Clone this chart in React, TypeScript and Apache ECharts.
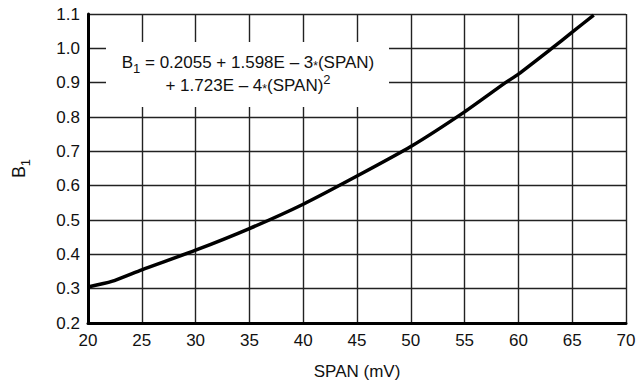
import React, { useEffect, useRef } from "react";
import * as echarts from "echarts";

const spanValues = [20, 22.2, 25, 30, 35, 40, 45, 50, 55, 58.8, 60, 63.1, 65, 67];
const b1Values = [0.305, 0.321, 0.355, 0.412, 0.475, 0.546, 0.628, 0.714, 0.815, 0.9, 0.925, 1.0, 1.047, 1.097];
const xTicks = { min: 20, max: 70, interval: 5 };
const yTicks = { min: 0.2, max: 1.1, interval: 0.1 };
const formulaLine1 = ["B", "1", " = 0.2055 + 1.598E \u2013 3", "*", "(SPAN)"];
const formulaLine2 = ["+ 1.723E \u2013 4", "*", "(SPAN)", "2"];

const FONT = "'Liberation Sans', Arial, Helvetica, sans-serif";

export default function App() {
  const ref = useRef<HTMLDivElement>(null);
  useEffect(() => {
    if (!ref.current) return;
    const chart = echarts.init(ref.current, null, { renderer: "svg" });
    const data = spanValues.map((x, i) => [x, b1Values[i]]);
    const ink = "#111";
    chart.setOption({
      animation: false,
      backgroundColor: "#fff",
      textStyle: { fontFamily: FONT },
      grid: { left: 88, right: 16, top: 14, bottom: 61, containLabel: false },
      xAxis: {
        type: "value",
        min: xTicks.min,
        max: xTicks.max,
        interval: xTicks.interval,
        name: "SPAN (mV)",
        nameLocation: "middle",
        nameGap: 40,
        nameTextStyle: { color: ink, fontSize: 17, fontFamily: FONT },
        axisLine: { show: true, onZero: false, lineStyle: { color: "#000", width: 3 } },
        axisTick: { show: false },
        axisLabel: { color: ink, fontSize: 17, margin: 9, fontFamily: FONT },
        splitLine: { show: true, lineStyle: { color: "#222", width: 1.4 } },
      },
      yAxis: {
        type: "value",
        min: yTicks.min,
        max: yTicks.max,
        interval: yTicks.interval,
        name: "{b|B}{s|1}",
        nameLocation: "middle",
        nameGap: 60,
        nameTextStyle: {
          color: ink,
          fontFamily: FONT,
          rich: {
            b: { fontSize: 18, lineHeight: 18, verticalAlign: "top", fontFamily: FONT, color: ink },
            s: { fontSize: 13, lineHeight: 13, padding: [9, 0, 0, 0], verticalAlign: "top", fontFamily: FONT, color: ink },
          },
        },
        axisLine: { show: true, onZero: false, lineStyle: { color: "#000", width: 3 } },
        axisTick: { show: false },
        axisLabel: {
          color: ink,
          fontSize: 17,
          margin: 8,
          fontFamily: FONT,
          formatter: (v: number) => v.toFixed(1),
        },
        splitLine: { show: true, lineStyle: { color: "#222", width: 1.4 } },
      },
      graphic: [
        {
          type: "rect",
          z: 10,
          shape: { x: 106, y: 42, width: 283, height: 65 },
          style: { fill: "#fff" },
        },
        {
          type: "text",
          z: 11,
          x: 248,
          y: 54,
          style: {
            text: `{b|${formulaLine1[0]}}{s|${formulaLine1[1]}}{b|${formulaLine1[2]}}{a|${formulaLine1[3]}}{b|${formulaLine1[4]}}`,
            align: "center",
            fontFamily: FONT,
            rich: {
              b: { fontSize: 17, lineHeight: 17, verticalAlign: "top", fontFamily: FONT, fill: ink },
              s: { fontSize: 13, lineHeight: 13, padding: [8, 0, 0, 0], verticalAlign: "top", fontFamily: FONT, fill: ink },
              a: { fontSize: 12, lineHeight: 12, padding: [6, 0, 0, 0], verticalAlign: "top", fontFamily: FONT, fill: ink },
            },
          },
        },
        {
          type: "text",
          z: 11,
          x: 248,
          y: 73,
          style: {
            text: `{b|${formulaLine2[0]}}{a|${formulaLine2[1]}}{b|${formulaLine2[2]}}{p|${formulaLine2[3]}}`,
            align: "center",
            fontFamily: FONT,
            rich: {
              b: { fontSize: 17, lineHeight: 17, padding: [4, 0, 0, 0], verticalAlign: "top", fontFamily: FONT, fill: ink },
              a: { fontSize: 12, lineHeight: 12, padding: [10, 0, 0, 0], verticalAlign: "top", fontFamily: FONT, fill: ink },
              p: { fontSize: 13, lineHeight: 13, verticalAlign: "top", fontFamily: FONT, fill: ink },
            },
          },
        },
      ],
      series: [
        {
          type: "line",
          data,
          smooth: 0.2,
          symbol: "none",
          lineStyle: { color: "#000", width: 3.5 },
          z: 3,
        },
      ],
    });
    return () => chart.dispose();
  }, []);
  return <div ref={ref} style={{ width: 642, height: 385, position: "absolute", left: 0, top: 0 }} />;
}
